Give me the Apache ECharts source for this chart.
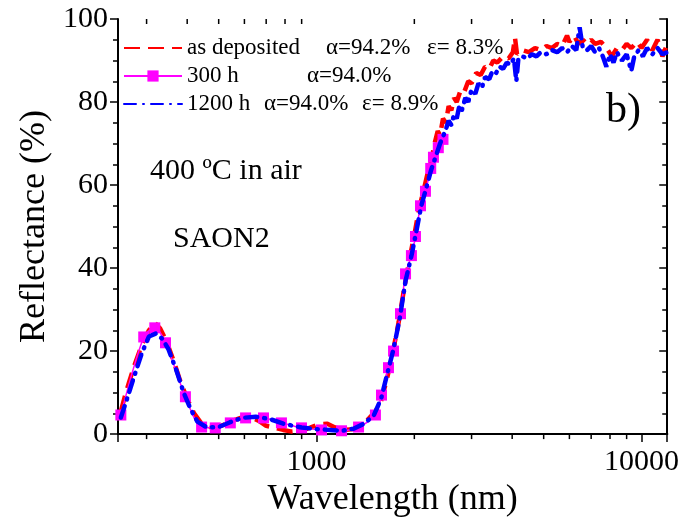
<!DOCTYPE html>
<html>
<head>
<meta charset="utf-8">
<script src="https://cdn.jsdelivr.net/npm/echarts@6/dist/echarts.min.js"></script>
<style>
  html, body { margin: 0; padding: 0; background: #fff; }
  #chart { width: 682px; height: 523px; }
</style>
</head>
<body>
<div id="chart"></div>
<script>
// as deposited (red dashed)
const depWl = [250, 258, 265, 275, 290, 305, 318, 330, 345, 362, 380, 400, 420, 445, 475, 510, 550, 590, 630, 665,
  700, 740, 790, 840, 900, 960, 1020, 1080, 1140, 1220, 1300, 1380, 1450, 1520, 1580, 1650, 1720, 1790, 1860, 1930,
  2000, 2070, 2140, 2200, 2260, 2300, 2360, 2400, 2450, 2500, 2550, 2600, 2650, 2700, 2780, 2850, 2930, 3000, 3100,
  3200, 3300, 3400, 3500, 3600, 3750, 3900, 4020, 4080, 4140, 4300, 4500, 4700, 4900, 5100, 5300, 5500, 5700, 5900,
  6000, 6200, 6400, 6600, 6800, 7000, 7200, 7500, 7800, 8100, 8400, 8700, 9000, 9300, 9700, 10000, 10400, 10800,
  11200, 11600, 12000];
const depR = [5.5, 9.5, 12.5, 16.5, 21.5, 25, 26.8, 25.5, 22.5, 18, 13, 8.5, 5, 2.3, 1.6, 2, 3.2, 4, 4, 3.2,
  2, 1.6, 1, 0.6, 0.8, 1.6, 2.4, 2.5, 1.6, 1, 1.2, 2.2, 3.8, 5.5, 8, 13.5, 20, 27, 35, 42,
  48, 54.5, 59, 63, 66, 69.5, 73, 72, 76, 75, 79, 78, 81, 80, 83, 82.5, 85, 84.5, 87,
  86.5, 88.5, 88, 90, 89.5, 91, 90.5, 92, 95.5, 91.5, 92.5, 92, 93, 92.5, 93.5, 93, 94, 93.5, 96,
  94.5, 96, 94, 95, 94, 95, 94, 94.5, 93, 91, 93, 92.5, 94, 93, 94.5, 93, 95, 92.5,
  95, 91, 94];

// 300 h (magenta with squares)
const h300Wl = [250, 294, 318, 343, 395, 443, 488, 543, 605, 687, 780, 899, 1036, 1194, 1347, 1518, 1585, 1665, 1726,
  1813, 1879, 1959, 2016, 2089, 2164, 2246, 2290, 2370, 2450];
const h300R = [4.6, 23.4, 25.6, 22, 9, 1.7, 1.5, 2.7, 3.9, 3.9, 2.7, 1.5, 1, 0.8, 1.7, 4.6, 9.4, 16, 20,
  29, 38.6, 43, 47.6, 55, 58.5, 64, 66.7, 69, 71];

// 1200 h (blue dash-dot)
const h1200Wl = [250, 260, 275, 290, 305, 320, 335, 350, 370, 390, 410, 430, 460, 500, 540, 590, 650, 720, 800, 900,
  1000, 1100, 1200, 1300, 1400, 1500, 1580, 1650, 1720, 1800, 1880, 1960, 2030, 2100, 2180, 2250, 2330, 2400, 2490,
  2550, 2600, 2650, 2700, 2750, 2800, 2870, 2930, 3000, 3080, 3150, 3230, 3300, 3400, 3480, 3570, 3660, 3750, 3850,
  3950, 4050, 4120, 4180, 4300, 4450, 4600, 4750, 4900, 5100, 5300, 5500, 5700, 5900, 6100, 6300, 6450, 6600, 6800,
  7000, 7200, 7400, 7600, 7800, 8000, 8200, 8400, 8700, 9000, 9300, 9500, 9800, 10100, 10400, 10800, 11200, 11600, 12000];
const h1200R = [4, 8, 14, 19.5, 23.5, 24.2, 23, 20.5, 15.5, 10, 6, 3, 1.6, 1.7, 2.8, 3.9, 4.2, 3.6, 2.4, 1.6,
  1.2, 1, 0.8, 1.3, 2.5, 4.5, 8.5, 14.5, 20, 27.5, 37, 43, 49, 55, 59.5, 63.5, 67, 70, 73,
  75.5, 74.5, 77, 76, 79, 78, 81, 80, 83, 82, 84.5, 83.5, 86, 85.5, 87.5, 87, 88.5, 88, 89.5,
  89, 90.5, 85, 90.5, 91, 90.5, 91.5, 91, 92, 91.5, 92.5, 92, 93, 92, 93.5, 92.5, 98, 93, 92.5,
  93.5, 92, 93, 91, 88.5, 91.5, 89.5, 92, 90, 91.5, 87.5, 91, 92.5, 91, 93, 91.5, 93, 91.5, 92];

const seriesNames = ['as deposited', '300 h', '1200 h'];
const alphaText = ['α=94.2%', 'α=94.0%', 'α=94.0%'];
const epsText = ['ε= 8.3%', '', 'ε= 8.9%'];
const minorTicks = [300, 400, 500, 600, 700, 800, 900, 2000, 3000, 4000, 5000, 6000, 7000, 8000, 9000];

const FONT = '"Liberation Serif", "Times New Roman", serif';

function pairs(xs, ys) {
  return xs.map((x, i) => [x, ys[i]]);
}

const chart = echarts.init(document.getElementById('chart'));

const xCommon = {
  type: 'log',
  logBase: 10,
  min: 245,
  max: 12000,
  splitLine: { show: false },
  axisLine: { show: true, lineStyle: { color: '#000', width: 2 } },
  minorTick: { show: false }
};
const yCommon = {
  type: 'value',
  min: 0,
  max: 100,
  interval: 20,
  splitLine: { show: false },
  axisLine: { show: true, lineStyle: { color: '#000', width: 2 } },
  minorTick: { show: true, splitNumber: 4, length: 5, lineStyle: { color: '#000', width: 1.5 } }
};

chart.setOption({
  animation: false,
  grid: { left: 118, right: 12, top: 19, bottom: 88, containLabel: false },
  xAxis: [
    Object.assign({}, xCommon, {
      position: 'bottom',
      name: 'Wavelength (nm)',
      nameLocation: 'middle',
      nameGap: 44,
      nameTextStyle: { fontFamily: FONT, fontSize: 36, color: '#000' },
      axisTick: { show: true, inside: false, length: 8, lineStyle: { color: '#000', width: 1.5 } },
      axisLabel: {
        fontFamily: FONT, fontSize: 30, color: '#000', margin: 13,
        showMinLabel: false, showMaxLabel: false,
        formatter: v => (Math.abs(Math.log10(v) - Math.round(Math.log10(v))) < 1e-6 ? String(Math.round(v)) : '')
      }
    }),
    Object.assign({}, xCommon, {
      position: 'top',
      axisTick: { show: true, inside: true, length: 8, lineStyle: { color: '#000', width: 1.5 } },
      axisLabel: { show: false }
    })
  ],
  yAxis: [
    Object.assign({}, yCommon, {
      position: 'left',
      name: 'Reflectance (%)',
      nameLocation: 'middle',
      nameGap: 60,
      nameTextStyle: { fontFamily: FONT, fontSize: 36, color: '#000' },
      axisTick: { show: true, inside: false, length: 8, lineStyle: { color: '#000', width: 1.5 } },
      axisLabel: { fontFamily: FONT, fontSize: 30, color: '#000', margin: 10 }
    }),
    Object.assign({}, yCommon, {
      position: 'right',
      axisTick: { show: true, inside: true, length: 8, lineStyle: { color: '#000', width: 1.5 } },
      minorTick: { show: true, splitNumber: 4, length: 5, lineStyle: { color: '#000', width: 1.5 } },
      axisLabel: { show: false }
    })
  ],
  legend: {
    data: [
      { name: seriesNames[0], itemStyle: { opacity: 0 } },
      { name: seriesNames[1] },
      { name: seriesNames[2], itemStyle: { opacity: 0 } }
    ],
    orient: 'vertical',
    left: 118,
    top: 31,
    itemWidth: 58,
    itemHeight: 14,
    itemGap: 4,
    formatter: name => {
      const i = seriesNames.indexOf(name);
      let s = '{n' + i + '|' + name + '}{a' + i + '|' + alphaText[i] + '}';
      if (epsText[i]) s += '{e|' + epsText[i] + '}';
      return s;
    },
    textStyle: {
      fontFamily: FONT, fontSize: 23, color: '#000', lineHeight: 24,
      rich: {
        n0: { width: 139, fontFamily: FONT, fontSize: 23 },
        n1: { width: 120, fontFamily: FONT, fontSize: 23 },
        n2: { width: 77, fontFamily: FONT, fontSize: 23 },
        a0: { width: 101, fontFamily: FONT, fontSize: 23 },
        a1: { fontFamily: FONT, fontSize: 23 },
        a2: { width: 98, fontFamily: FONT, fontSize: 23 },
        e: { fontFamily: FONT, fontSize: 23 }
      }
    }
  },
  graphic: [
    { type: 'text', left: 150, top: 156, style: { text: '400 ºC in air', font: '30px ' + FONT, fill: '#000' } },
    { type: 'text', left: 173, top: 224, style: { text: 'SAON2', font: '30px ' + FONT, fill: '#000' } },
    { type: 'text', left: 606, top: 90, style: { text: 'b)', font: '42px ' + FONT, fill: '#000' } }
  ],
  series: [
    {
      name: seriesNames[0],
      type: 'line',
      symbol: 'none',
      data: pairs(depWl, depR),
      lineStyle: { color: '#ff0000', width: 4.5, type: [16, 8] },
      itemStyle: { color: '#ff0000' },
      z: 2
    },
    {
      name: seriesNames[1],
      type: 'line',
      smooth: 0.3,
      symbol: 'rect',
      symbolSize: 11,
      data: pairs(h300Wl, h300R),
      lineStyle: { color: '#ff00ff', width: 1.5 },
      itemStyle: { color: '#ff00ff' },
      z: 3
    },
    {
      name: seriesNames[2],
      type: 'line',
      symbol: 'none',
      data: pairs(h1200Wl, h1200R),
      lineStyle: { color: '#0000ff', width: 4.5, type: [12, 7, 1, 7], cap: 'round' },
      itemStyle: { color: '#0000ff' },
      z: 4
    },
    {
      type: 'custom',
      silent: true,
      data: minorTicks.map(v => [v, 0]),
      renderItem: (params, api) => {
        const v = api.value(0);
        const pb = api.coord([v, 0]);
        const pt = api.coord([v, 100]);
        return {
          type: 'group',
          children: [
            { type: 'line', shape: { x1: pb[0], y1: pb[1], x2: pb[0], y2: pb[1] + 5 }, style: { stroke: '#000', lineWidth: 1.5 } },
            { type: 'line', shape: { x1: pt[0], y1: pt[1], x2: pt[0], y2: pt[1] + 5 }, style: { stroke: '#000', lineWidth: 1.5 } }
          ]
        };
      },
      z: 1
    }
  ]
});
</script>
</body>
</html>
